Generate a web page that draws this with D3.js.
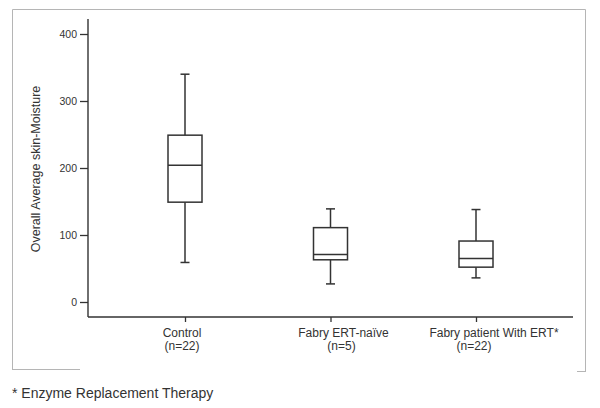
<!DOCTYPE html>
<html>
<head>
<meta charset="utf-8">
<script src="https://cdn.jsdelivr.net/npm/d3@7"></script>
<style>
  body { margin: 0; background: #fff; }
  svg { display: block; font-family: Arial, "Liberation Sans", sans-serif; }
  .tick text { fill: #333; }
</style>
</head>
<body>
<div id="chart"></div>
<script>
// groups and their sample sizes
var categories = ["Control", "Fabry ERT-naïve", "Fabry patient With ERT*"]
var groupSizes = ["(n=22)", "(n=5)", "(n=22)"]

// box plot statistics
var whiskerLow = [59, 27, 36]
var q1 = [149, 63, 52]
var median = [204, 71, 65]
var q3 = [249, 111, 91]
var whiskerHigh = [340, 139, 138]

var yTicks = [0, 100, 200, 300, 400]

var width = 600, height = 408
var ink = "#333"

var svg = d3.select("#chart").append("svg")
    .attr("width", width)
    .attr("height", height)

// faint outer frame of the scanned figure
var frame = svg.append("g")
    .attr("stroke", "#b5b5b5")
    .attr("stroke-width", 1)
    .attr("fill", "none")
frame.append("path").attr("d", "M12.5,370 V9.5 H585.5 V371")
frame.append("line").attr("x1", 12).attr("x2", 80).attr("y1", 369.5).attr("y2", 369.5)
frame.append("line").attr("x1", 577).attr("x2", 586).attr("y1", 371.5).attr("y2", 371.5)

var y = d3.scaleLinear().domain([0, 400]).range([302, 34])
var x = d3.scalePoint().domain(categories).range([185, 476])

var axisLeftX = 88, axisTop = 19, axisBottomY = 317, axisRight = 573

// y axis
var yAxis = svg.append("g")
    .attr("transform", "translate(" + axisLeftX + ",0)")
    .call(d3.axisLeft(y).tickValues(yTicks).tickSize(8).tickPadding(3))
yAxis.select(".domain").remove()
yAxis.selectAll(".tick line").attr("stroke", ink).attr("stroke-width", 1.3)
yAxis.selectAll(".tick text").attr("font-size", "10.5px").attr("font-family", "Arial, 'Liberation Sans', sans-serif")

svg.append("line")
    .attr("x1", axisLeftX).attr("x2", axisLeftX)
    .attr("y1", axisTop).attr("y2", axisBottomY)
    .attr("stroke", ink).attr("stroke-width", 1.4)

// x axis
var xAxis = svg.append("g")
    .attr("transform", "translate(0," + axisBottomY + ")")
    .call(d3.axisBottom(x).tickSize(5).tickFormat(""))
xAxis.select(".domain").remove()
xAxis.selectAll(".tick line").attr("stroke", ink).attr("stroke-width", 1.3)

svg.append("line")
    .attr("x1", axisLeftX).attr("x2", axisRight)
    .attr("y1", axisBottomY).attr("y2", axisBottomY)
    .attr("stroke", ink).attr("stroke-width", 1.4)

// category labels (slightly off-centre in the original)
var labelShift = [-3, 13, 18]
var sizeShift = [-3, 11, -2]
categories.forEach(function(c, i){
    svg.append("text")
        .attr("x", x(c) + labelShift[i])
        .attr("y", 337)
        .attr("text-anchor", "middle")
        .attr("font-size", "12px")
        .attr("fill", ink)
        .text(c)
    svg.append("text")
        .attr("x", x(c) + sizeShift[i])
        .attr("y", 350)
        .attr("text-anchor", "middle")
        .attr("font-size", "12px")
        .attr("fill", ink)
        .text(groupSizes[i])
})

// y axis title
svg.append("text")
    .attr("transform", "translate(40,169) rotate(-90)")
    .attr("text-anchor", "middle")
    .attr("font-size", "12.5px")
    .attr("fill", ink)
    .text("Overall Average skin-Moisture")

// boxes
var boxW = 34, capW = 9
var boxes = svg.selectAll("g.box")
    .data(categories.map(function(c, i){
        return { cat: c, lo: whiskerLow[i], q1: q1[i], med: median[i], q3: q3[i], hi: whiskerHigh[i] }
    }))
    .enter().append("g")
    .attr("class", "box")
    .attr("stroke", ink)
    .attr("stroke-width", 1.5)
    .attr("fill", "none")

boxes.append("line")
    .attr("x1", d => x(d.cat)).attr("x2", d => x(d.cat))
    .attr("y1", d => y(d.hi)).attr("y2", d => y(d.q3))
boxes.append("line")
    .attr("x1", d => x(d.cat)).attr("x2", d => x(d.cat))
    .attr("y1", d => y(d.q1)).attr("y2", d => y(d.lo))
boxes.append("line")
    .attr("x1", d => x(d.cat) - capW/2).attr("x2", d => x(d.cat) + capW/2)
    .attr("y1", d => y(d.hi)).attr("y2", d => y(d.hi))
boxes.append("line")
    .attr("x1", d => x(d.cat) - capW/2).attr("x2", d => x(d.cat) + capW/2)
    .attr("y1", d => y(d.lo)).attr("y2", d => y(d.lo))
boxes.append("rect")
    .attr("x", d => x(d.cat) - boxW/2)
    .attr("width", boxW)
    .attr("y", d => y(d.q3))
    .attr("height", d => y(d.q1) - y(d.q3))
boxes.append("line")
    .attr("x1", d => x(d.cat) - boxW/2).attr("x2", d => x(d.cat) + boxW/2)
    .attr("y1", d => y(d.med)).attr("y2", d => y(d.med))

// footnote
svg.append("text")
    .attr("x", 12)
    .attr("y", 398)
    .attr("font-size", "14px")
    .attr("fill", ink)
    .text("* Enzyme Replacement Therapy")
</script>
</body>
</html>
